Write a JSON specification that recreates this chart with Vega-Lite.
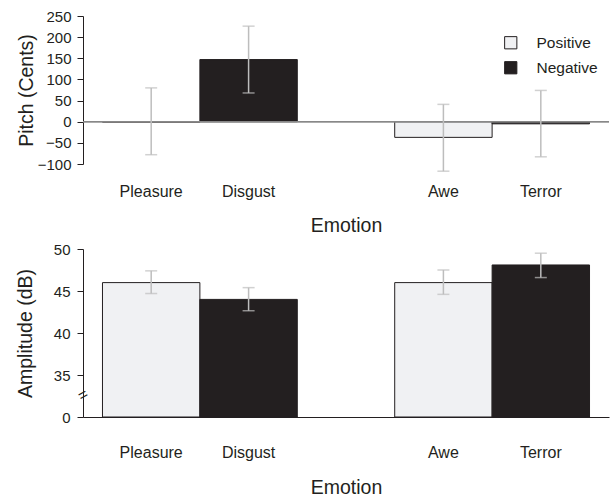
{
  "$schema": "https://vega.github.io/schema/vega-lite/v6.json",
  "padding": {"left": 15, "top": 9, "right": 2, "bottom": 0},
  "background": "white",
  "config": {
    "font": "Liberation Sans",
    "view": {"stroke": null},
    "axis": {"labelColor": "#231f20", "titleColor": "#231f20", "labelFont": "Liberation Sans", "titleFont": "Liberation Sans", "labelFontSize": 16, "titleFontSize": 19.5, "titleFontWeight": "normal", "domainColor": "#231f20", "tickColor": "#231f20", "grid": false, "labelOverlap": false},
    "legend": {"labelFont": "Liberation Sans", "labelFontSize": 15.5, "labelColor": "#231f20"}
  },
  "datasets": {
    "pitch": [
      {"Emotion": "Pleasure", "Valence": "Positive", "value": -1, "lo": -78, "hi": 80},
      {"Emotion": "Disgust", "Valence": "Negative", "value": 147, "lo": 68, "hi": 226},
      {"Emotion": "Awe", "Valence": "Positive", "value": -37, "lo": -117, "hi": 41},
      {"Emotion": "Terror", "Valence": "Negative", "value": -5, "lo": -83, "hi": 74}
    ],
    "amp": [
      {"Emotion": "Pleasure", "Valence": "Positive", "value": 46.0, "lo": 44.7, "hi": 47.4},
      {"Emotion": "Disgust", "Valence": "Negative", "value": 44.0, "lo": 42.65, "hi": 45.4},
      {"Emotion": "Awe", "Valence": "Positive", "value": 46.0, "lo": 44.6, "hi": 47.5},
      {"Emotion": "Terror", "Valence": "Negative", "value": 48.1, "lo": 46.6, "hi": 49.5}
    ],
    "brk": [{"Emotion": "Pleasure", "v": 32.6, "s": "="}]
  },
  "spacing": 7,
  "resolve": {"scale": {"color": "independent"}},
  "vconcat": [
    {
      "width": 526,
      "height": 148,
      "data": {"name": "pitch"},
      "encoding": {
        "x": {"field": "Emotion", "type": "nominal", "sort": null,
          "scale": {"domain": ["Pleasure", "Disgust", " ", "Awe", "Terror"], "paddingInner": 0, "paddingOuter": 0.2},
          "axis": {"domain": false, "ticks": false, "labelAngle": 0, "labelPadding": 19, "titlePadding": 17, "title": "Emotion"}}
      },
      "layer": [
        {
          "mark": {"type": "bar", "stroke": "#231f20", "strokeWidth": 1},
          "encoding": {
            "y": {"field": "value", "type": "quantitative",
              "scale": {"domain": [-100, 250], "nice": false, "zero": false},
              "axis": {"values": [-100, -50, 0, 50, 100, 150, 200, 250], "labelFontSize": 15, "title": "Pitch (Cents)", "titlePadding": 1, "tickSize": 6, "labelPadding": 6}},
            "y2": {"datum": 0},
            "color": {"field": "Valence", "type": "nominal",
              "scale": {"domain": ["Positive", "Negative"], "range": ["#f0f1f3", "#231f20"]},
              "legend": {"title": null, "orient": "none", "legendX": 420, "legendY": 19, "symbolType": "square", "symbolSize": 150, "symbolStrokeColor": "#231f20", "symbolStrokeWidth": 1, "labelOffset": 18, "rowPadding": 7}}
          }
        },
        {
          "mark": {"type": "rule", "color": "#888888", "strokeWidth": 1.2},
          "encoding": {"y": {"datum": 0, "axis": {"values": [-100, -50, 0, 50, 100, 150, 200, 250], "labelFontSize": 15, "title": "Pitch (Cents)", "titlePadding": 1, "tickSize": 6, "labelPadding": 6}}, "x": {"value": 0}, "x2": {"value": 526}}
        },
        {
          "mark": {"type": "rule", "color": "#bdbdbd", "strokeWidth": 1.5},
          "encoding": {"y": {"field": "lo", "type": "quantitative", "axis": {"values": [-100, -50, 0, 50, 100, 150, 200, 250], "labelFontSize": 15, "title": "Pitch (Cents)", "titlePadding": 1, "tickSize": 6, "labelPadding": 6}}, "y2": {"field": "hi"}}
        },
        {
          "mark": {"type": "tick", "color": "#bdbdbd", "size": 12, "thickness": 1.5, "orient": "horizontal"},
          "encoding": {"y": {"field": "lo", "type": "quantitative", "axis": {"values": [-100, -50, 0, 50, 100, 150, 200, 250], "labelFontSize": 15, "title": "Pitch (Cents)", "titlePadding": 1, "tickSize": 6, "labelPadding": 6}}}
        },
        {
          "mark": {"type": "tick", "color": "#bdbdbd", "size": 12, "thickness": 1.5, "orient": "horizontal"},
          "encoding": {"y": {"field": "hi", "type": "quantitative", "axis": {"values": [-100, -50, 0, 50, 100, 150, 200, 250], "labelFontSize": 15, "title": "Pitch (Cents)", "titlePadding": 1, "tickSize": 6, "labelPadding": 6}}}
        }
      ]
    },
    {
      "width": 526,
      "height": 168,
      "encoding": {
        "x": {"field": "Emotion", "type": "nominal", "sort": null,
          "scale": {"domain": ["Pleasure", "Disgust", " ", "Awe", "Terror"], "paddingInner": 0, "paddingOuter": 0.2},
          "axis": {"ticks": false, "labelAngle": 0, "labelPadding": 27, "titlePadding": 18, "title": "Emotion"}}
      },
      "layer": [
        {
          "data": {"name": "amp"},
          "mark": {"type": "bar", "stroke": "#231f20", "strokeWidth": 1},
          "encoding": {
            "y": {"field": "value", "type": "quantitative",
              "scale": {"domain": [30, 50], "nice": false, "zero": false},
              "axis": {"values": [30, 35, 40, 45, 50], "labelFontSize": 15, "labelExpr": "datum.value == 30 ? '0' : datum.label", "title": "Amplitude (dB)", "titlePadding": 18, "tickSize": 6, "labelPadding": 7}},
            "y2": {"datum": 30},
            "color": {"field": "Valence", "type": "nominal",
              "scale": {"domain": ["Positive", "Negative"], "range": ["#f0f1f3", "#231f20"]},
              "legend": null}
          }
        },
        {
          "data": {"name": "amp"},
          "mark": {"type": "rule", "color": "#bdbdbd", "strokeWidth": 1.5},
          "encoding": {"y": {"field": "lo", "type": "quantitative", "axis": {"values": [30, 35, 40, 45, 50], "labelFontSize": 15, "labelExpr": "datum.value == 30 ? '0' : datum.label", "title": "Amplitude (dB)", "titlePadding": 18, "tickSize": 6, "labelPadding": 7}}, "y2": {"field": "hi"}}
        },
        {
          "data": {"name": "amp"},
          "mark": {"type": "tick", "color": "#bdbdbd", "size": 12, "thickness": 1.5, "orient": "horizontal"},
          "encoding": {"y": {"field": "lo", "type": "quantitative", "axis": {"values": [30, 35, 40, 45, 50], "labelFontSize": 15, "labelExpr": "datum.value == 30 ? '0' : datum.label", "title": "Amplitude (dB)", "titlePadding": 18, "tickSize": 6, "labelPadding": 7}}}
        },
        {
          "data": {"name": "amp"},
          "mark": {"type": "tick", "color": "#bdbdbd", "size": 12, "thickness": 1.5, "orient": "horizontal"},
          "encoding": {"y": {"field": "hi", "type": "quantitative", "axis": {"values": [30, 35, 40, 45, 50], "labelFontSize": 15, "labelExpr": "datum.value == 30 ? '0' : datum.label", "title": "Amplitude (dB)", "titlePadding": 18, "tickSize": 6, "labelPadding": 7}}}
        },
        {
          "data": {"name": "brk"},
          "mark": {"type": "text", "angle": -30, "fontSize": 16, "color": "#231f20", "font": "Liberation Sans"},
          "encoding": {"x": {"value": 0}, "y": {"field": "v", "type": "quantitative", "axis": {"values": [30, 35, 40, 45, 50], "labelFontSize": 15, "labelExpr": "datum.value == 30 ? '0' : datum.label", "title": "Amplitude (dB)", "titlePadding": 18, "tickSize": 6, "labelPadding": 7}}, "text": {"field": "s"}}
        }
      ]
    }
  ]
}
